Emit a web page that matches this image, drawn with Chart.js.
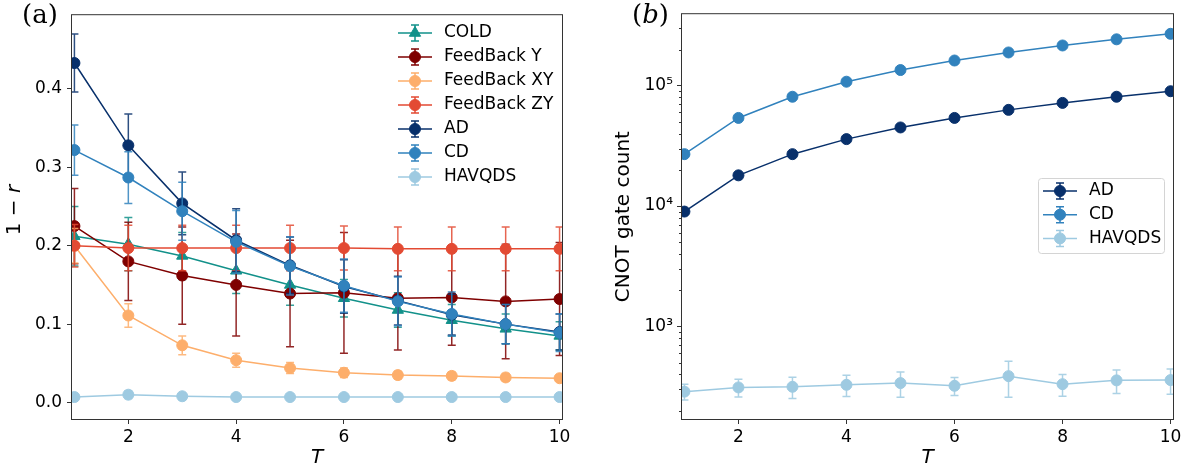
<!DOCTYPE html>
<html>
<head>
<meta charset="utf-8">
<script src="https://cdn.jsdelivr.net/npm/chart.js@4.4.1/dist/chart.umd.min.js"></script>
<style>
  html, body { margin: 0; padding: 0; background: #fff; }
  #wrap { position: relative; width: 1189px; height: 476px; }
  #chartA { position: absolute; left: 0; top: 0; }
  #chartB { position: absolute; left: 595px; top: 0; }
</style>
</head>
<body>
<div id="wrap">
  <canvas id="chartA" width="595" height="476"></canvas>
  <canvas id="chartB" width="594" height="476"></canvas>
</div>
<script>
'use strict';

// T on the x axis, same for both panels
const T = [1, 2, 3, 4, 5, 6, 7, 8, 9, 10];
const xTicks = [2, 4, 6, 8, 10];

// panel (a): 1 - r, with symmetric error bars
const yTicksA = [0.0, 0.1, 0.2, 0.3, 0.4];
const cold = [0.212, 0.202, 0.187, 0.168, 0.150, 0.133, 0.118, 0.105, 0.094, 0.085];
const coldErr = [0.038, 0.034, 0.030, 0.029, 0.026, 0.024, 0.022, 0.020, 0.019, 0.018];
const fbY = [0.225, 0.180, 0.162, 0.150, 0.139, 0.140, 0.133, 0.134, 0.129, 0.132];
const fbYErr = [0.048, 0.050, 0.062, 0.065, 0.068, 0.077, 0.066, 0.061, 0.073, 0.072];
const fbXY = [0.200, 0.111, 0.073, 0.054, 0.044, 0.038, 0.035, 0.034, 0.032, 0.031];
const fbXYErr = [0.022, 0.015, 0.012, 0.009, 0.007, 0.006, 0.005, 0.005, 0.005, 0.004];
const fbZY = [0.200, 0.197, 0.197, 0.197, 0.197, 0.197, 0.196, 0.196, 0.196, 0.196];
const fbZYErr = [0.027, 0.029, 0.029, 0.029, 0.029, 0.028, 0.028, 0.028, 0.028, 0.028];
const ad = [0.433, 0.328, 0.254, 0.207, 0.175, 0.148, 0.130, 0.112, 0.100, 0.090];
const adErr = [0.037, 0.040, 0.040, 0.040, 0.036, 0.034, 0.031, 0.026, 0.025, 0.023];
const cd = [0.322, 0.287, 0.244, 0.205, 0.174, 0.149, 0.129, 0.113, 0.100, 0.089];
const cdErr = [0.032, 0.033, 0.037, 0.040, 0.037, 0.034, 0.031, 0.028, 0.025, 0.024];
const hav = [0.007, 0.010, 0.008, 0.007, 0.007, 0.007, 0.007, 0.007, 0.007, 0.007];
const havErr = [0.003, 0.005, 0.004, 0.003, 0.002, 0.002, 0.002, 0.002, 0.002, 0.002];

// panel (b): CNOT gate count (log scale)
const yTicksB = [1e3, 1e4, 1e5];
const adGates = [9000, 18000, 27000, 36000, 45000, 54000, 63000, 72000, 81000, 90000];
const cdGates = [27000, 54000, 81000, 108000, 135000, 162000, 189000, 216000, 243000, 270000];
const havGates = [287, 311, 315, 327, 338, 321, 386, 331, 356, 358];
const havGatesErr = [43, 52, 63, 65, 80, 55, 128, 68, 79, 85];

const colors = {
  cold: '#12918a',
  fbY: '#7f0000',
  fbXY: '#fdae6b',
  fbZY: '#e34a33',
  ad: '#08306b',
  cd: '#3182bd',
  hav: '#9ecae1'
};

Chart.defaults.font.family = '"DejaVu Sans", sans-serif';
Chart.defaults.color = '#000';

function makeSet(label, values, errors, color, style, idx, n) {
  return {
    label: label,
    data: T.map((t, i) => ({ x: t, y: values[i] })),
    errors: errors,
    borderColor: color,
    backgroundColor: color,
    pointBackgroundColor: color,
    pointBorderColor: color,
    pointStyle: style,
    pointRadius: style === 'triangle' ? 6.5 : 5.5,
    pointBorderWidth: 1,
    borderWidth: 1.5,
    tension: 0,
    fill: false,
    order: n - idx // later series on top, like matplotlib
  };
}

// error bars, drawn just under each dataset's own line
const errorBars = {
  id: 'errorBars',
  beforeDatasetDraw(chart, args) {
    const ds = chart.data.datasets[args.index];
    if (!ds.errors) return;
    const xs = chart.scales.x, ys = chart.scales.y;
    const ctx = chart.ctx, a = chart.chartArea;
    ctx.save();
    ctx.beginPath();
    ctx.rect(a.left, a.top, a.right - a.left, a.bottom - a.top);
    ctx.clip();
    ctx.strokeStyle = ds.borderColor;
    ctx.globalAlpha = 0.85;
    ctx.lineWidth = 1.5;
    ds.data.forEach((p, i) => {
      const e = ds.errors[i];
      const px = xs.getPixelForValue(p.x);
      const lo = ys.getPixelForValue(p.y - e);
      const hi = ys.getPixelForValue(p.y + e);
      ctx.beginPath();
      ctx.moveTo(px, lo); ctx.lineTo(px, hi);
      ctx.moveTo(px - 4, lo); ctx.lineTo(px + 4, lo);
      ctx.moveTo(px - 4, hi); ctx.lineTo(px + 4, hi);
      ctx.stroke();
    });
    ctx.restore();
  }
};

// four spines round the plot area
const frame = {
  id: 'frame',
  afterDraw(chart) {
    const ctx = chart.ctx, a = chart.chartArea;
    ctx.save();
    ctx.strokeStyle = '#333';
    ctx.lineWidth = 1;
    ctx.strokeRect(a.left - 0.5, a.top - 0.5, a.right - a.left + 1, a.bottom - a.top + 1);
    ctx.restore();
  }
};

function drawMarker(ctx, style, r, x, y) {
  ctx.beginPath();
  if (style === 'triangle') {
    ctx.moveTo(x, y - r);
    ctx.lineTo(x + 0.866 * r, y + 0.5 * r);
    ctx.lineTo(x - 0.866 * r, y + 0.5 * r);
    ctx.closePath();
  } else {
    ctx.arc(x, y, r, 0, Math.PI * 2);
  }
  ctx.fill();
  ctx.stroke();
}

// legend with errorbar handles
function errLegend(cfg) {
  return {
    id: 'errLegend',
    afterDraw(chart) {
      const ctx = chart.ctx;
      ctx.save();
      if (cfg.box) {
        ctx.fillStyle = 'rgba(255,255,255,0.8)';
        ctx.strokeStyle = '#d4d4d4';
        ctx.lineWidth = 1;
        ctx.beginPath();
        ctx.roundRect(cfg.box.x + 0.5, cfg.box.y + 0.5, cfg.box.w, cfg.box.h, 3);
        ctx.fill();
        ctx.stroke();
      }
      chart.data.datasets.forEach((ds, i) => {
        const y = cfg.y + i * cfg.dy;
        const cx = cfg.x + 17;
        ctx.strokeStyle = ds.borderColor;
        ctx.fillStyle = ds.borderColor;
        ctx.lineWidth = 1.5;
        ctx.beginPath();
        ctx.moveTo(cfg.x, y); ctx.lineTo(cfg.x + 34, y);
        ctx.moveTo(cx, y - 8); ctx.lineTo(cx, y + 8);
        ctx.moveTo(cx - 4, y - 8); ctx.lineTo(cx + 4, y - 8);
        ctx.moveTo(cx - 4, y + 8); ctx.lineTo(cx + 4, y + 8);
        ctx.stroke();
        ctx.lineWidth = 1;
        drawMarker(ctx, ds.pointStyle, ds.pointRadius, cx, y);
        ctx.fillStyle = '#000';
        ctx.font = '17px "DejaVu Sans"';
        ctx.textBaseline = 'middle';
        ctx.textAlign = 'left';
        ctx.fillText(ds.label, cfg.x + 46, y);
      });
      ctx.restore();
    }
  };
}

// panel letter, e.g. (a) or (b) with italic letter
function panelTag(letter, italic, x, y) {
  return {
    id: 'panelTag',
    afterDraw(chart) {
      const ctx = chart.ctx;
      ctx.save();
      ctx.fillStyle = '#000';
      ctx.textBaseline = 'alphabetic';
      ctx.textAlign = 'left';
      const up = '26px "DejaVu Serif"';
      const it = (italic ? 'italic ' : '') + '26px "DejaVu Serif"';
      let cx = x;
      ctx.font = up; ctx.fillText('(', cx, y); cx += ctx.measureText('(').width;
      ctx.font = it; ctx.fillText(letter, cx, y); cx += ctx.measureText(letter).width;
      ctx.font = up; ctx.fillText(')', cx, y);
      ctx.restore();
    }
  };
}

// y label "1 − r" with italic r
const yLabelA = {
  id: 'yLabelA',
  afterDraw(chart) {
    const ctx = chart.ctx;
    ctx.save();
    ctx.translate(15, 210);
    ctx.rotate(-Math.PI / 2);
    ctx.fillStyle = '#000';
    ctx.textBaseline = 'middle';
    ctx.textAlign = 'left';
    ctx.font = '20px "DejaVu Sans"';
    const p1 = '1 \u2212 ';
    const w1 = ctx.measureText(p1).width;
    ctx.font = 'italic 20px "DejaVu Sans"';
    const w2 = ctx.measureText('r').width;
    const x0 = -(w1 + w2) / 2;
    ctx.font = '20px "DejaVu Sans"';
    ctx.fillText(p1, x0, 0);
    ctx.font = 'italic 20px "DejaVu Sans"';
    ctx.fillText('r', x0 + w1, 0);
    ctx.restore();
  }
};

// minor ticks for the log axis
const minorTicks = {
  id: 'minorTicks',
  afterDraw(chart) {
    const ys = chart.scales.y, ctx = chart.ctx, a = chart.chartArea;
    ctx.save();
    ctx.strokeStyle = '#333';
    ctx.lineWidth = 1;
    ctx.beginPath();
    for (let e = 2; e <= 5; e++) {
      for (let k = 2; k <= 9; k++) {
        const v = k * Math.pow(10, e);
        if (v < ys.min || v > ys.max) continue;
        const py = Math.round(ys.getPixelForValue(v)) + 0.5;
        ctx.moveTo(a.left - 3, py);
        ctx.lineTo(a.left, py);
      }
    }
    ctx.stroke();
    ctx.restore();
  }
};

const tickFont = { size: 17 };
const gridOpts = { drawOnChartArea: false, tickLength: 5, tickColor: '#333', tickWidth: 1 };

function xScale() {
  return {
    type: 'linear',
    min: 0.955,
    max: 10.045,
    bounds: 'data',
    afterBuildTicks: (s) => { s.ticks = xTicks.map((v) => ({ value: v })); },
    afterFit: (s) => { s.height = 57; },
    grid: gridOpts,
    border: { display: false },
    ticks: { font: tickFont, color: '#000', padding: 3, maxRotation: 0, autoSkip: false },
    title: { display: true, text: 'T', color: '#000', font: { size: 20, style: 'italic' }, padding: { top: 0, bottom: 6 } }
  };
}

// ---- panel (a)
const setsA = [
  ['COLD', cold, coldErr, colors.cold, 'triangle'],
  ['FeedBack Y', fbY, fbYErr, colors.fbY, 'circle'],
  ['FeedBack XY', fbXY, fbXYErr, colors.fbXY, 'circle'],
  ['FeedBack ZY', fbZY, fbZYErr, colors.fbZY, 'circle'],
  ['AD', ad, adErr, colors.ad, 'circle'],
  ['CD', cd, cdErr, colors.cd, 'circle'],
  ['HAVQDS', hav, havErr, colors.hav, 'circle']
].map((s, i, all) => makeSet(s[0], s[1], s[2], s[3], s[4], i, all.length));

new Chart(document.getElementById('chartA'), {
  type: 'line',
  data: { datasets: setsA },
  options: {
    responsive: false,
    animation: false,
    layout: { padding: { top: 12, right: 33, left: 0, bottom: 0 } },
    plugins: { legend: { display: false }, tooltip: { enabled: false } },
    scales: {
      x: xScale(),
      y: {
        type: 'linear',
        min: -0.021,
        max: 0.494,
        bounds: 'data',
        afterBuildTicks: (s) => { s.ticks = yTicksA.map((v) => ({ value: v })); },
        afterFit: (s) => { s.width = 72; },
        grid: gridOpts,
        border: { display: false },
        ticks: { font: tickFont, color: '#000', padding: 5, autoSkip: false, callback: (v) => v.toFixed(1) }
      }
    }
  },
  plugins: [errorBars, frame, errLegend({ x: 398, y: 33, dy: 24 }), panelTag('a', false, 22, 23), yLabelA]
});

// ---- panel (b)
const setsB = [
  ['AD', adGates, null, colors.ad, 'circle'],
  ['CD', cdGates, null, colors.cd, 'circle'],
  ['HAVQDS', havGates, havGatesErr, colors.hav, 'circle']
].map((s, i, all) => makeSet(s[0], s[1], s[2], s[3], s[4], i, all.length));

const sup = { 2: '\u00b2', 3: '\u00b3', 4: '\u2074', 5: '\u2075' };

new Chart(document.getElementById('chartB'), {
  type: 'line',
  data: { datasets: setsB },
  options: {
    responsive: false,
    animation: false,
    layout: { padding: { top: 12, right: 16, left: 0, bottom: 0 } },
    plugins: { legend: { display: false }, tooltip: { enabled: false } },
    scales: {
      x: xScale(),
      y: {
        type: 'logarithmic',
        min: 170,
        max: 393000,
        bounds: 'data',
        afterBuildTicks: (s) => { s.ticks = yTicksB.map((v) => ({ value: v, major: true })); },
        afterFit: (s) => { s.width = 87; },
        grid: gridOpts,
        border: { display: false },
        ticks: {
          font: tickFont, color: '#000', padding: 4, autoSkip: false,
          callback: (v) => '10' + sup[Math.round(Math.log10(v))]
        },
        title: { display: true, text: 'CNOT gate count', color: '#000', font: { size: 20 }, padding: { top: 17, bottom: 0 } }
      }
    }
  },
  plugins: [errorBars, minorTicks, frame, errLegend({ x: 448, y: 191, dy: 23.7, box: { x: 443, y: 178, w: 126, h: 75 } }), panelTag('b', true, 37, 23)]
});
</script>
</body>
</html>
